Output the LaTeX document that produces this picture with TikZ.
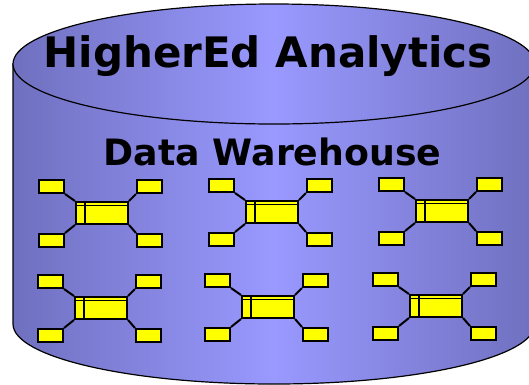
\documentclass[tikz,border=0pt]{standalone}
\usepackage{fontspec}
\setmainfont{DejaVu Sans}
\usetikzlibrary{calc}
\definecolor{cyledge}{RGB}{112,112,192}
\definecolor{cylmid}{RGB}{153,153,255}
\definecolor{boxyellow}{RGB}{255,255,0}
\tikzset{
  cylfill/.style={left color=cyledge, right color=cyledge, middle color=cylmid, draw=black, line width=1.2pt},
  fact/.style={draw=black, fill=boxyellow, line width=2pt, minimum width=52pt, minimum height=22pt, inner sep=0pt, rectangle},
  dim/.style={draw=black, fill=boxyellow, line width=2pt, minimum width=25pt, minimum height=13pt, inner sep=0pt, rectangle},
  link/.style={draw=black, line width=2pt},
  inner/.style={draw=black, line width=1.6pt},
  titletext/.style={font=\bfseries\fontsize{42}{42}\selectfont, anchor=base, inner sep=0pt},
  subtext/.style={font=\bfseries\fontsize{36.3}{36.3}\selectfont, anchor=base, inner sep=0pt}
}
\newcommand{\starschema}[3]{%
  \node[fact] (#1c) at (#2+27,#3+12) {};
  \draw[inner] ([xshift=10pt]#1c.north west) -- ([xshift=10pt]#1c.south west);
  \draw[inner] ([yshift=-4.5pt]#1c.north west) -- ([yshift=-4.5pt]#1c.north east);
  \node[dim] (#1tl) at (#2-23.5,#3-14.5) {};
  \node[dim] (#1tr) at (#2+74.5,#3-14.5) {};
  \node[dim] (#1bl) at (#2-23.5,#3+39.5) {};
  \node[dim] (#1br) at (#2+74.5,#3+39.5) {};
  \draw[link] (#1tl.south east) -- (#1c.north west);
  \draw[link] (#1tr.south west) -- (#1c.north east);
  \draw[link] (#1bl.north east) -- (#1c.south west);
  \draw[link] (#1br.north west) -- (#1c.south east);
}
\begin{document}
\begin{tikzpicture}[x=1pt,y=-1pt]
\useasboundingbox (0,0) rectangle (529,384);
\fill[white] (0,0) rectangle (529,384);
% cylinder body
\path[cylfill] (13,64) -- (13,324) arc[start angle=180, end angle=0, x radius=261, y radius=60] -- (535,64) -- cycle;
% top ellipse
\path[cylfill] (274,64) ellipse [x radius=261, y radius=60];
\node[titletext] (title) at (268,67) {HigherEd Analytics};
\node[subtext] (dw) at (272.5,165) {Data Warehouse};
\starschema{a}{75}{201}
\starschema{b}{245}{200}
\starschema{c}{415}{199}
\starschema{d}{74}{296}
\starschema{e}{241}{295}
\starschema{f}{409}{294}
\end{tikzpicture}
\end{document}
